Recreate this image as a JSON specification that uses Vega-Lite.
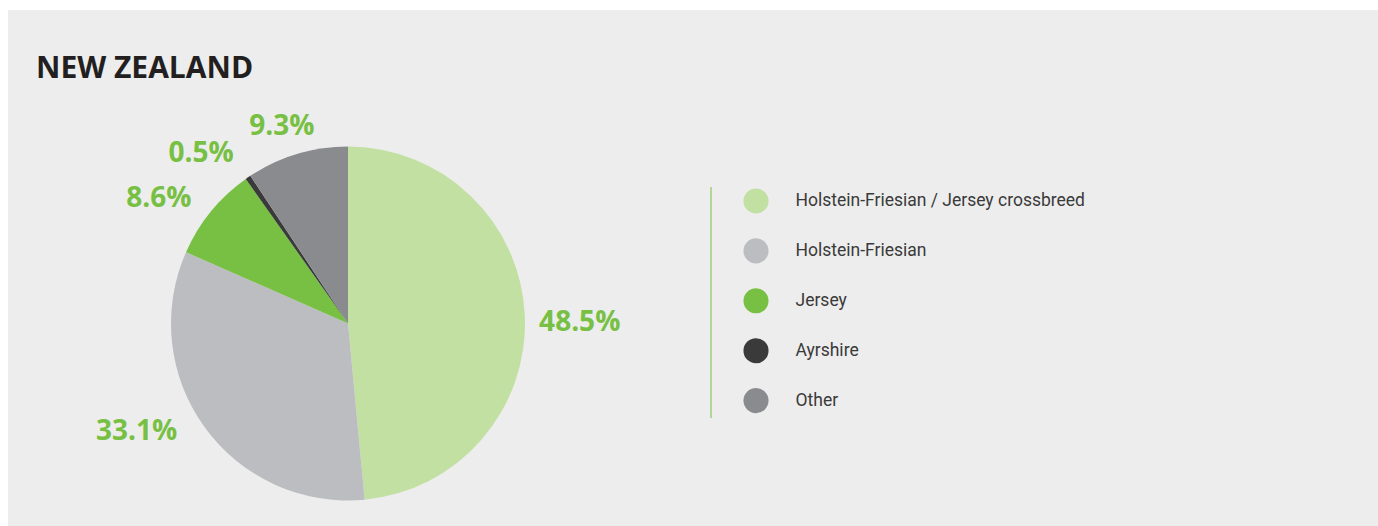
{
  "$schema": "https://vega.github.io/schema/vega-lite/v6.json",
  "width": 1378,
  "height": 526,
  "autosize": {"type": "fit", "contains": "padding"},
  "padding": {"left": 8, "top": 10, "right": 0, "bottom": 0},
  "background": "#ffffff",
  "title": {
    "text": "NEW ZEALAND",
    "anchor": "start",
    "frame": "group",
    "orient": "top",
    "offset": -98,
    "dx": 28,
    "font": "Open Sans",
    "fontSize": 30,
    "fontWeight": "bold",
    "color": "#231f20",
    "baseline": "alphabetic"
  },
  "config": {"view": {"stroke": null}},
  "data": {
    "values": [
      {"breed": "Holstein-Friesian / Jersey crossbreed", "value": 0.485, "order": 1},
      {"breed": "Holstein-Friesian", "value": 0.331, "order": 2},
      {"breed": "Jersey", "value": 0.086, "order": 3},
      {"breed": "Ayrshire", "value": 0.005, "order": 4},
      {"breed": "Other", "value": 0.093, "order": 5}
    ]
  },
  "layer": [
    {
      "data": {"values": [{}]},
      "mark": {"type": "rect", "fill": "#ededed"},
      "encoding": {
        "x": {"value": 0},
        "x2": {"value": "width"},
        "y": {"value": 0},
        "y2": {"value": "height"}
      }
    },
    {
      "data": {"values": [{}]},
      "mark": {"type": "rule", "color": "#77c043", "strokeWidth": 1},
      "encoding": {
        "x": {"value": 703},
        "y": {"value": 177},
        "y2": {"value": 408}
      }
    },
    {
      "mark": {"type": "arc", "x": 340, "y": 313.5, "outerRadius": 177},
      "encoding": {
        "theta": {"field": "value", "type": "quantitative", "stack": true},
        "order": {"field": "order", "type": "quantitative"},
        "color": {
          "field": "breed",
          "type": "nominal",
          "scale": {
            "domain": ["Holstein-Friesian / Jersey crossbreed", "Holstein-Friesian", "Jersey", "Ayrshire", "Other"],
            "range": ["#c3e0a3", "#bcbdc1", "#77c043", "#3a3a3b", "#8a8b8f"]
          },
          "legend": {
            "orient": "none",
            "direction": "vertical",
            "legendX": 735,
            "legendY": 178,
            "title": null,
            "padding": 0,
            "symbolType": "circle",
            "symbolSize": 630,
            "symbolStrokeWidth": 0,
            "symbolOpacity": 1,
            "labelFont": "Roboto",
            "labelFontSize": 17.5,
            "labelColor": "#3a3a3a",
            "labelOffset": 26.5,
            "labelLimit": 0,
            "rowPadding": 23.9
          }
        }
      }
    },
    {
      "mark": {"type": "text", "x": 340, "y": 313.5, "radius": 230, "dx": 2, "dy": 10, "font": "Open Sans", "fontSize": 28, "fontWeight": "bold", "fill": "#77c043", "align": "center", "baseline": "middle"},
      "encoding": {
        "theta": {"field": "value", "type": "quantitative", "stack": true},
        "order": {"field": "order", "type": "quantitative"},
        "text": {"condition": {"test": "datum.breed === 'Holstein-Friesian / Jersey crossbreed'", "field": "value", "format": ".1%"}, "value": ""}
      }
    },
    {
      "mark": {"type": "text", "x": 340, "y": 313.5, "radius": 230, "dx": -25, "dy": -26, "font": "Open Sans", "fontSize": 28, "fontWeight": "bold", "fill": "#77c043", "align": "center", "baseline": "middle"},
      "encoding": {
        "theta": {"field": "value", "type": "quantitative", "stack": true},
        "order": {"field": "order", "type": "quantitative"},
        "text": {"condition": {"test": "datum.breed === 'Holstein-Friesian'", "field": "value", "format": ".1%"}, "value": ""}
      }
    },
    {
      "mark": {"type": "text", "x": 340, "y": 313.5, "radius": 230, "dx": -11, "dy": 21, "font": "Open Sans", "fontSize": 28, "fontWeight": "bold", "fill": "#77c043", "align": "center", "baseline": "middle"},
      "encoding": {
        "theta": {"field": "value", "type": "quantitative", "stack": true},
        "order": {"field": "order", "type": "quantitative"},
        "text": {"condition": {"test": "datum.breed === 'Jersey'", "field": "value", "format": ".1%"}, "value": ""}
      }
    },
    {
      "mark": {"type": "text", "x": 340, "y": 313.5, "radius": 230, "dx": -17, "dy": 20, "font": "Open Sans", "fontSize": 28, "fontWeight": "bold", "fill": "#77c043", "align": "center", "baseline": "middle"},
      "encoding": {
        "theta": {"field": "value", "type": "quantitative", "stack": true},
        "order": {"field": "order", "type": "quantitative"},
        "text": {"condition": {"test": "datum.breed === 'Ayrshire'", "field": "value", "format": ".1%"}, "value": ""}
      }
    },
    {
      "mark": {"type": "text", "x": 340, "y": 313.5, "radius": 230, "dx": 0, "dy": 24, "font": "Open Sans", "fontSize": 28, "fontWeight": "bold", "fill": "#77c043", "align": "center", "baseline": "middle"},
      "encoding": {
        "theta": {"field": "value", "type": "quantitative", "stack": true},
        "order": {"field": "order", "type": "quantitative"},
        "text": {"condition": {"test": "datum.breed === 'Other'", "field": "value", "format": ".1%"}, "value": ""}
      }
    }
  ]
}
